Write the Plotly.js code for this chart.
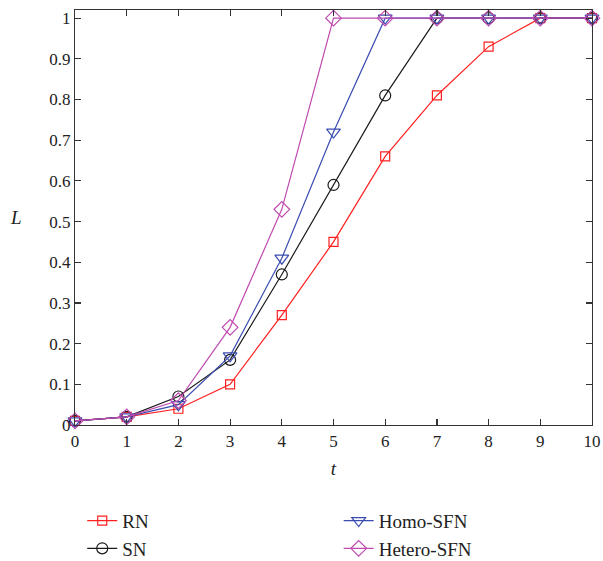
<!DOCTYPE html>
<html>
<head>
<meta charset="utf-8">
<script src="https://cdn.plot.ly/plotly-3.0.1.min.js"></script>
<style>
  html, body { margin: 0; padding: 0; background: #fff; }
  #chart { width: 603px; height: 561px; }
</style>
</head>
<body>
<div id="chart"></div>
<script>
// Time steps and the fraction L reached by each network type
const t = [0, 1, 2, 3, 4, 5, 6, 7, 8, 9, 10];
const rn     = [0.01, 0.02, 0.04, 0.10, 0.27, 0.45, 0.66, 0.81, 0.93, 1.00, 1.00];
const sn     = [0.01, 0.02, 0.07, 0.16, 0.37, 0.59, 0.81, 1.00, 1.00, 1.00, 1.00];
const homo   = [0.01, 0.02, 0.05, 0.17, 0.41, 0.72, 1.00, 1.00, 1.00, 1.00, 1.00];
const hetero = [0.01, 0.02, 0.06, 0.24, 0.53, 1.00, 1.00, 1.00, 1.00, 1.00, 1.00];

const names  = ['RN', 'SN', 'Homo-SFN', 'Hetero-SFN'];
const yTickVals = [0, 0.1, 0.2, 0.3, 0.4, 0.5, 0.6, 0.7, 0.8, 0.9, 1];
const yTickText = ['0', '0.1', '0.2', '0.3', '0.4', '0.5', '0.6', '0.7', '0.8', '0.9', '1'];

const FONT = 'Liberation Serif, Times New Roman, serif';

function series(y, name, color, symbol, size, legendId) {
  return {
    x: t, y: y, name: name, type: 'scatter', mode: 'lines+markers',
    line: { color: color, width: 1.2 },
    marker: { symbol: symbol, size: size, color: color,
              line: { color: color, width: 1.2 } },
    legend: legendId, cliponaxis: false
  };
}

// Two legend columns: RN / SN on the left, the scale-free networks on the right
const traces = [
  series(rn,     names[0], '#ff2020', 'square-open',        9, 'legend'),
  series(sn,     names[1], '#1a1a1a', 'circle-open',       11, 'legend'),
  series(homo,   names[2], '#3a4cb0', 'triangle-down-open', 12, 'legend2'),
  series(hetero, names[3], '#c04ab0', 'diamond-open',       12, 'legend2')
];

const axisCommon = {
  showline: true, linecolor: '#333', linewidth: 1.2, mirror: 'ticks',
  ticks: 'inside', ticklen: 6, tickcolor: '#333', tickwidth: 1.2,
  showgrid: false, zeroline: false,
  tickfont: { family: FONT, size: 17, color: '#222' }
};

const legendCommon = {
  orientation: 'v', yanchor: 'top', xanchor: 'left', y: -0.185,
  traceorder: 'normal', tracegroupgap: 0, itemsizing: 'trace',
  font: { family: FONT, size: 19, color: '#222' },
  bgcolor: 'rgba(0,0,0,0)'
};

const layout = {
  width: 603, height: 561,
  margin: { l: 75, r: 11, t: 10, b: 136, autoexpand: false },
  paper_bgcolor: '#fff', plot_bgcolor: '#fff',
  font: { family: FONT, color: '#222' },
  xaxis: Object.assign({}, axisCommon, {
    range: [0, 10], tickmode: 'array', tickvals: t,
    title: { text: '<i>t</i>', font: { family: FONT, size: 19 }, standoff: 12 }
  }),
  yaxis: Object.assign({}, axisCommon, {
    range: [0, 1.02], tickmode: 'array', tickvals: yTickVals, ticktext: yTickText
  }),
  annotations: [{
    text: '<i>L</i>', xref: 'paper', yref: 'paper', x: -0.115, y: 0.5,
    xanchor: 'center', yanchor: 'middle', showarrow: false,
    font: { family: FONT, size: 19, color: '#222' }
  }],
  showlegend: true,
  legend:  Object.assign({}, legendCommon, { x: 0.014 }),
  legend2: Object.assign({}, legendCommon, { x: 0.51 })
};

Plotly.newPlot('chart', traces, layout, { displayModeBar: false, staticPlot: true });
</script>
</body>
</html>
